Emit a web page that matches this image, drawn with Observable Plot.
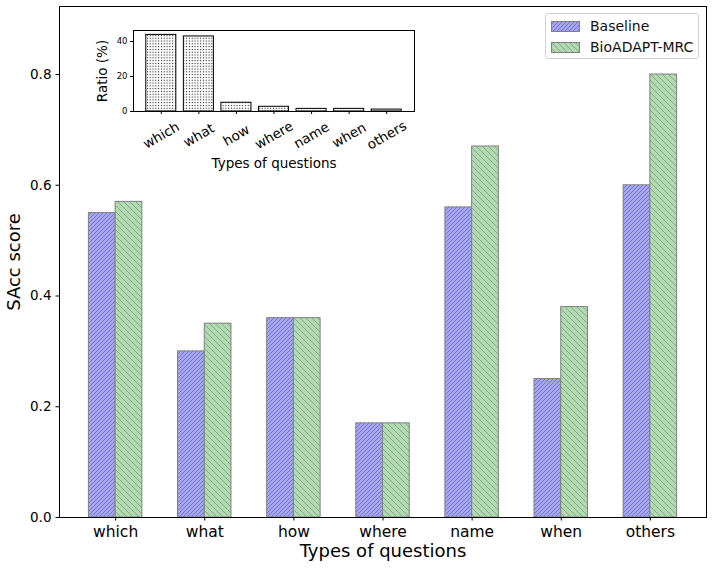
<!DOCTYPE html>
<html>
<head>
<meta charset="utf-8">
<script src="https://cdn.jsdelivr.net/npm/d3@7"></script>
<script src="https://cdn.jsdelivr.net/npm/@observablehq/plot@0.6"></script>
<style>
  html, body { margin: 0; padding: 0; background: white; }
  #wrap { position: relative; width: 712px; height: 568px; font-family: "DejaVu Sans", sans-serif; }
  #inset { position: absolute; left: 90px; top: 20px; }
  #legend {
    position: absolute; left: 545px; top: 13px; width: 154px; height: 46px;
    border: 1px solid #d0d0d0; border-radius: 3px; background: rgba(255,255,255,0.8);
    box-sizing: border-box; font-size: 14px; color: #111;
  }
  .row { position: absolute; left: 5px; display: flex; align-items: center; }
  .row svg { margin-right: 10px; }
</style>
</head>
<body>
<div id="wrap">
  <div id="main"></div>
  <div id="inset"></div>
  <div id="legend"></div>
</div>
<script>
const categories = ["which", "what", "how", "where", "name", "when", "others"];
const baseline = [0.55, 0.30, 0.36, 0.17, 0.56, 0.25, 0.60];
const bioadapt = [0.57, 0.35, 0.36, 0.17, 0.67, 0.38, 0.80];
const ratio = [43.8, 42.9, 5.0, 2.7, 1.5, 1.5, 1.1];
const yTicks = [0, 0.2, 0.4, 0.6, 0.8];
const insetTicks = [0, 20, 40];
const seriesNames = ["Baseline", "BioADAPT-MRC"];

const idx = categories.map((d, i) => i);

const defsHTML = `
  <pattern id="hatchBlue" patternUnits="userSpaceOnUse" width="4" height="4">
    <rect width="4" height="4" fill="#a6a6ef"></rect>
    <path d="M-1,1 L1,-1 M0,4 L4,0 M3,5 L5,3" stroke="#6e6ed0" stroke-width="0.9"></path>
  </pattern>
  <pattern id="hatchGreen" patternUnits="userSpaceOnUse" width="6" height="6">
    <rect width="6" height="6" fill="#b2d9b2"></rect>
    <path d="M-1,-1 L7,7 M-1,5 L1,7 M5,-1 L7,1" stroke="#7fa27f" stroke-width="0.9"></path>
  </pattern>
  <pattern id="dots" patternUnits="userSpaceOnUse" width="2.8" height="2.8">
    <rect width="2.8" height="2.8" fill="white"></rect>
    <rect x="0.9" y="0.9" width="1.1" height="1.1" fill="#222"></rect>
  </pattern>`;

const main = Plot.plot({
  width: 712,
  height: 568,
  marginLeft: 59,
  marginRight: 6,
  marginTop: 6,
  marginBottom: 51,
  style: { fontFamily: "DejaVu Sans, sans-serif", background: "white", color: "black" },
  x: { type: "linear", domain: [-0.63, 6.63] },
  y: { domain: [0, 0.9228] },
  marks: [
    Plot.rectY(idx, { x1: i => i - 0.3, x2: i => i, y: i => baseline[i], fill: "url(#hatchBlue)", stroke: "#808080", strokeWidth: 1 }),
    Plot.rectY(idx, { x1: i => i, x2: i => i + 0.3, y: i => bioadapt[i], fill: "url(#hatchGreen)", stroke: "#808080", strokeWidth: 1 }),
    Plot.frame({ stroke: "black", strokeWidth: 1 }),
    Plot.axisX({ ticks: idx, tickFormat: i => categories[i], tickSize: 3.5, tickPadding: 4.5, fontSize: 15.5, label: null }),
    Plot.axisY({ ticks: yTicks, tickFormat: d3.format(".1f"), tickSize: 3.5, tickPadding: 4.5, fontSize: 13.5, label: null }),
    Plot.text(["SAcc score"], { frameAnchor: "left", dx: -45, rotate: -90, textAnchor: "middle", lineAnchor: "middle", fontSize: 18, text: d => d }),
    Plot.text(["Types of questions"], { frameAnchor: "bottom", dy: 34, textAnchor: "middle", lineAnchor: "middle", fontSize: 18, text: d => d })
  ]
});
d3.select(main).insert("defs", ":first-child").html(defsHTML);
document.getElementById("main").appendChild(main);

const inset = Plot.plot({
  width: 340,
  height: 160,
  marginLeft: 43,
  marginRight: 16,
  marginTop: 10,
  marginBottom: 69,
  style: { fontFamily: "DejaVu Sans, sans-serif", background: "transparent", color: "black" },
  x: { type: "linear", domain: [-0.74, 6.74] },
  y: { domain: [0, 46.3] },
  marks: [
    Plot.frame({ fill: "white" }),
    Plot.rectY(idx, { x1: i => i - 0.4, x2: i => i + 0.4, y: i => ratio[i], fill: "url(#dots)", stroke: "black", strokeWidth: 1 }),
    Plot.frame({ stroke: "black", strokeWidth: 1 }),
    Plot.axisX({ ticks: idx, tickFormat: () => "", tickSize: 3, label: null }),
    Plot.axisY({ ticks: insetTicks, tickSize: 3, tickPadding: 3, fontSize: 8.5, label: null }),
    Plot.text(idx, { x: i => i, frameAnchor: "bottom", dy: 24, rotate: -30, textAnchor: "middle", lineAnchor: "middle", fontSize: 13.5, text: i => categories[i] }),
    Plot.text(["Ratio (%)"], { frameAnchor: "left", dx: -31, rotate: -90, textAnchor: "middle", lineAnchor: "middle", fontSize: 13.5, text: d => d }),
    Plot.text(["Types of questions"], { frameAnchor: "bottom", dy: 52, textAnchor: "middle", lineAnchor: "middle", fontSize: 13.5, text: d => d })
  ]
});
document.getElementById("inset").appendChild(inset);

// legend
const legend = d3.select("#legend");
const fills = ["url(#hatchBlue)", "url(#hatchGreen)"];
seriesNames.forEach((name, k) => {
  const row = legend.append("div").attr("class", "row").style("top", (k === 0 ? 4 : 25) + "px");
  const s = row.append("svg").attr("width", 29).attr("height", 11);
  s.append("rect").attr("x", 0.5).attr("y", 0.5).attr("width", 28).attr("height", 10)
    .attr("fill", fills[k]).attr("stroke", "#808080");
  row.append("span").text(name);
});
</script>
</body>
</html>
